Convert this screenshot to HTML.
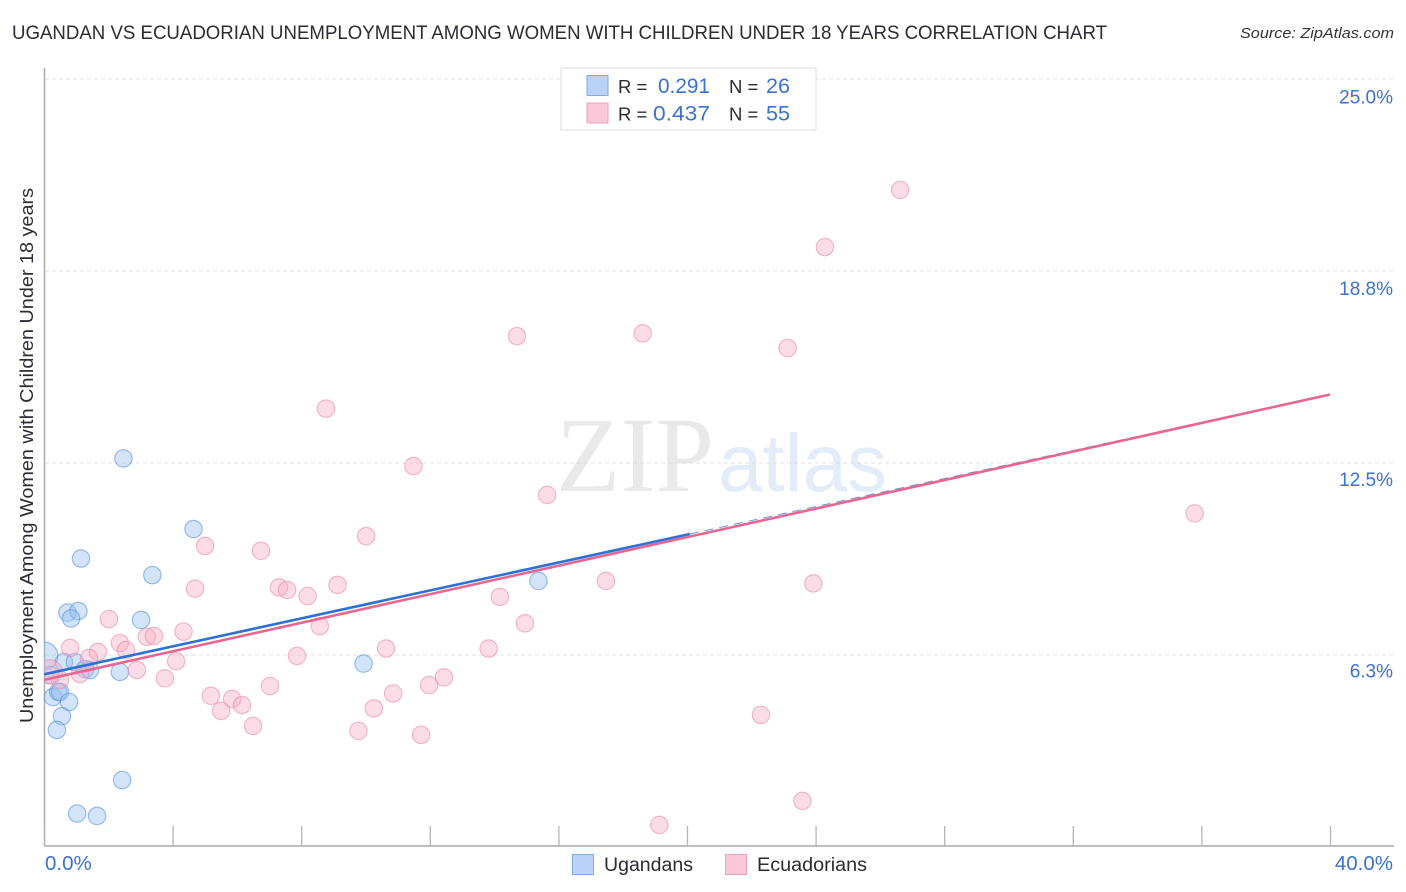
<!DOCTYPE html>
<html lang="en">
<head>
<meta charset="utf-8">
<title>Ugandan vs Ecuadorian Unemployment Correlation Chart</title>
<style>
html,body{margin:0;padding:0;background:#fff;width:1406px;height:892px;overflow:hidden}
svg{display:block}
text{font-family:"Liberation Sans",sans-serif}
</style>
</head>
<body>
<svg id="chart" xmlns="http://www.w3.org/2000/svg" width="1406" height="892" viewBox="0 0 1406 892">
  <defs><clipPath id="plot-clip"><rect x="44" y="68" width="1350" height="778"/></clipPath></defs>
  <text x="12" y="39" font-size="19" fill="#2b2b33" textLength="1095" lengthAdjust="spacingAndGlyphs">UGANDAN VS ECUADORIAN UNEMPLOYMENT AMONG WOMEN WITH CHILDREN UNDER 18 YEARS CORRELATION CHART</text>
  <text x="1394" y="38" font-size="15" font-style="italic" fill="#333" text-anchor="end" textLength="154" lengthAdjust="spacingAndGlyphs">Source: ZipAtlas.com</text>

  <g id="watermark">
    <text x="556" y="491" font-size="107" fill="#e9e9e9" textLength="158" lengthAdjust="spacingAndGlyphs" style="font-family:'Liberation Serif',serif">ZIP</text>
    <text x="718" y="491" font-size="82" fill="#e3ecf8" textLength="169" lengthAdjust="spacingAndGlyphs">atlas</text>
  </g>

  <g id="grid"></g>
  <g id="axes"></g>
  <g id="points-ugandans" clip-path="url(#plot-clip)"></g>
  <g id="points-ecuadorians" clip-path="url(#plot-clip)"></g>
  <g id="trends" clip-path="url(#plot-clip)"></g>
  <g id="tick-labels"></g>

  <text transform="translate(33,723) rotate(-90)" x="0" y="0" font-size="18.5" fill="#2b2b33" textLength="535" lengthAdjust="spacingAndGlyphs">Unemployment Among Women with Children Under 18 years</text>

  <g>
    <rect x="561" y="68" width="255" height="62" fill="#fff" stroke="#dcdcdc" stroke-width="1"/>
    <rect x="587" y="75.500" width="21" height="20" fill="#b9d3f7" stroke="#7fabe6" stroke-width="1"/>
    <text x="618" y="93" font-size="18.500" fill="#2b2b33">R =</text>
    <text x="658" y="93" font-size="21" fill="#3b72d0" textLength="52" lengthAdjust="spacingAndGlyphs">0.291</text>
    <text x="729" y="93" font-size="18.500" fill="#2b2b33">N =</text>
    <text x="766" y="93" font-size="21" fill="#3b72d0" textLength="24" lengthAdjust="spacingAndGlyphs">26</text>
    <rect x="587" y="103" width="21" height="20" fill="#fbc8d9" stroke="#f0a0bb" stroke-width="1"/>
    <text x="618" y="120.500" font-size="18.500" fill="#2b2b33">R =</text>
    <text x="653" y="120.500" font-size="21" fill="#3b72d0" textLength="57" lengthAdjust="spacingAndGlyphs">0.437</text>
    <text x="729" y="120.500" font-size="18.500" fill="#2b2b33">N =</text>
    <text x="766" y="120.500" font-size="21" fill="#3b72d0" textLength="24" lengthAdjust="spacingAndGlyphs">55</text>
  </g>

  <g>
    <rect x="572.500" y="854.500" width="21" height="20" fill="#b9d3f7" stroke="#7fabe6" stroke-width="1"/>
    <text x="604" y="871" font-size="19" fill="#2b2b33" textLength="89" lengthAdjust="spacingAndGlyphs">Ugandans</text>
    <rect x="725.500" y="854.500" width="21" height="20" fill="#fbc8d9" stroke="#f0a0bb" stroke-width="1"/>
    <text x="757" y="871" font-size="19" fill="#2b2b33" textLength="110" lengthAdjust="spacingAndGlyphs">Ecuadorians</text>
  </g>
</svg>
<script>
const ugandanX = [2.47,4.65,1.15,3.37,15.38,0.73,1.07,0.84,3.02,9.94,0,0.62,0.96,1.28,1.43,2.36,0.19,0.28,0.44,0.50,0.78,0.56,0.40,2.43,1.03,1.65];
const ugandanY = [12.65,10.35,9.39,8.85,8.66,7.63,7.68,7.44,7.39,5.97,6.22,6.02,6.02,5.79,5.76,5.70,5.60,4.88,5.05,5.05,4.72,4.26,3.81,2.18,1.09,1.01];
const ugandanWeight = [1,1,1,1,1,1,1,1,1,1,1.6,1,1,1,1,1,1,1,1,1,1,1,1,1,1,1];
const ecuadorianX = [26.63,24.29,14.71,18.62,23.13,8.77,11.49,15.65,35.79,10.02,5.01,6.75,4.70,7.31,7.56,8.20,9.13,14.18,17.48,23.93,14.96,8.58,2.02,4.34,3.20,3.42,2.36,2.55,0.81,1.68,1.40,7.87,10.64,13.83,4.11,2.89,3.76,1.12,0.50,0.19,7.03,5.19,5.85,6.16,5.51,10.26,10.86,11.98,12.44,6.50,9.78,11.73,22.30,23.59,19.14];
const ecuadorianY = [21.39,19.53,16.63,16.72,16.24,14.27,12.40,11.46,10.86,10.12,9.80,9.64,8.41,8.45,8.37,8.17,8.53,8.14,8.66,8.58,7.28,7.19,7.42,7.01,6.84,6.87,6.64,6.41,6.48,6.35,6.15,6.22,6.46,6.46,6.05,5.76,5.49,5.63,5.44,5.70,5.24,4.92,4.82,4.62,4.43,4.51,5.00,5.27,5.52,3.94,3.78,3.65,4.30,1.50,0.72];
const ecuadorianWeight = [1,1,1,1,1,1,1,1,1,1,1,1,1,1,1,1,1,1,1,1,1,1,1,1,1,1,1,1,1,1,1,1,1,1,1,1,1,1,1,1.4,1,1,1,1,1,1,1,1,1,1,1,1,1,1,1];
const ugandanTrendX = [0,20.09];
const ugandanTrendY = [5.62,10.19];
const ugandanProjectionX = [20.09,40];
const ugandanProjectionY = [10.19,14.73];
const ecuadorianTrendX = [0,40];
const ecuadorianTrendY = [5.44,14.73];
const yTickValues = [25,18.75,12.5,6.25];
const yTickLabels = ["25.0%","18.8%","12.5%","6.3%"];
const xTickValues = [0,4,8,12,16,20,24,28,32,36,40];
const xEndValues = [0,40];
const xEndLabels = ["0.0%","40.0%"];

const SVGNS = "http://www.w3.org/2000/svg";
function xScale(v){ return 44 + v * 32.15; }
function yScale(v){ return 847 - v * 30.72; }
function yLabelScale(v){ return 868.5 - v * 30.6; }
function make(tag, parentId){
  const el = document.createElementNS(SVGNS, tag);
  document.getElementById(parentId).appendChild(el);
  return el;
}

yTickValues.forEach(function(v){
  const line = make("line", "grid");
  
  
  line.setAttribute("x1", 45);
  line.setAttribute("x2", 1393);
  line.setAttribute("y1", yScale(v));
  line.setAttribute("y2", yScale(v));
  line.setAttribute("stroke", "#d9d9d9");
  line.setAttribute("stroke-width", "0.800");
  line.setAttribute("stroke-dasharray", "4 3");
});

const yAxis = make("line", "axes");


yAxis.setAttribute("x1", 44.500);
yAxis.setAttribute("x2", 44.500);
yAxis.setAttribute("y1", 68);
yAxis.setAttribute("y2", 846);
yAxis.setAttribute("stroke", "#aaaaaa");
yAxis.setAttribute("stroke-width", "1.500");

const xAxis = make("line", "axes");


xAxis.setAttribute("x1", 44);
xAxis.setAttribute("x2", 1394);
xAxis.setAttribute("y1", 846);
xAxis.setAttribute("y2", 846);
xAxis.setAttribute("stroke", "#aaaaaa");
xAxis.setAttribute("stroke-width", "1.500");

xTickValues.forEach(function(v){
  const tick = make("line", "axes");
  
  
  tick.setAttribute("x1", xScale(v) + 0.500);
  tick.setAttribute("x2", xScale(v) + 0.500);
  tick.setAttribute("y1", 826);
  tick.setAttribute("y2", 846);
  tick.setAttribute("stroke", "#b5b5b5");
  tick.setAttribute("stroke-width", "1.300");
});

ugandanX.forEach(function(v, i){
  const c = make("circle", "points-ugandans");
  
  
  c.setAttribute("cx", xScale(v));
  c.setAttribute("cy", yScale(ugandanY[i]));
  c.setAttribute("r", 8.700 * ugandanWeight[i]);
  c.setAttribute("fill", "rgba(150,190,240,0.42)");
  c.setAttribute("stroke", "rgba(90,148,225,0.6)");
  c.setAttribute("stroke-width", "1.200");
});

ecuadorianX.forEach(function(v, i){
  const c = make("circle", "points-ecuadorians");
  
  
  c.setAttribute("cx", xScale(v));
  c.setAttribute("cy", yScale(ecuadorianY[i]));
  c.setAttribute("r", 8.700 * ecuadorianWeight[i]);
  c.setAttribute("fill", "rgba(248,172,196,0.42)");
  c.setAttribute("stroke", "rgba(232,140,170,0.58)");
  c.setAttribute("stroke-width", "1.200");
});

const projection = make("line", "trends");


projection.setAttribute("x1", xScale(ugandanProjectionX[0]));
projection.setAttribute("y1", yScale(ugandanProjectionY[0]));
projection.setAttribute("x2", xScale(ugandanProjectionX[1]));
projection.setAttribute("y2", yScale(ugandanProjectionY[1]));
projection.setAttribute("stroke", "#6d98d8");
projection.setAttribute("stroke-width", "1");
projection.setAttribute("stroke-dasharray", "9 6");

const ugandanTrend = make("line", "trends");


ugandanTrend.setAttribute("x1", xScale(ugandanTrendX[0]));
ugandanTrend.setAttribute("y1", yScale(ugandanTrendY[0]));
ugandanTrend.setAttribute("x2", xScale(ugandanTrendX[1]));
ugandanTrend.setAttribute("y2", yScale(ugandanTrendY[1]));
ugandanTrend.setAttribute("stroke", "#2a72d8");
ugandanTrend.setAttribute("stroke-width", "2.600");

const ecuadorianTrend = make("line", "trends");


ecuadorianTrend.setAttribute("x1", xScale(ecuadorianTrendX[0]));
ecuadorianTrend.setAttribute("y1", yScale(ecuadorianTrendY[0]));
ecuadorianTrend.setAttribute("x2", xScale(ecuadorianTrendX[1]));
ecuadorianTrend.setAttribute("y2", yScale(ecuadorianTrendY[1]));
ecuadorianTrend.setAttribute("stroke", "#e8668f");
ecuadorianTrend.setAttribute("stroke-width", "2.600");

yTickValues.forEach(function(v, i){
  const t = make("text", "tick-labels");
  
  
  t.setAttribute("x", 1393);
  t.setAttribute("y", yLabelScale(v));
  t.setAttribute("font-size", "19");
  t.setAttribute("fill", "#3b72d0");
  t.setAttribute("text-anchor", "end");
  t.textContent = yTickLabels[i];
});

xEndValues.forEach(function(v, i){
  const t = make("text", "tick-labels");
  
  
  t.setAttribute("x", i === 0 ? xScale(v) + 1 : 1393);
  t.setAttribute("y", 870);
  t.setAttribute("font-size", "20.500");
  t.setAttribute("fill", "#3b72d0");
  t.setAttribute("text-anchor", i === 0 ? "start" : "end");
  t.textContent = xEndLabels[i];
});
</script>
</body>
</html>
